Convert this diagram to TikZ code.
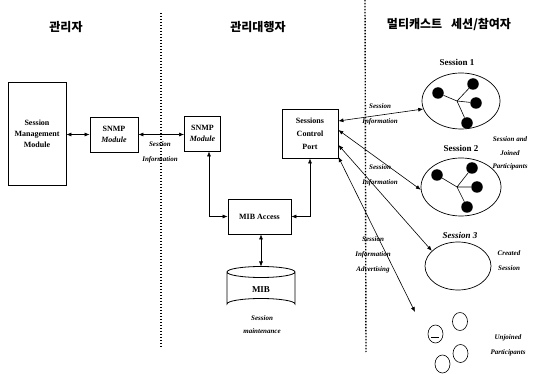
\documentclass[tikz,border=0pt]{standalone}
\usepackage{fontspec}
\setmainfont{Liberation Serif}
\newfontfamily\kr{Noto Sans CJK KR}
\usetikzlibrary{arrows.meta,shapes.geometric}
\tikzset{
  box/.style={draw, line width=0.8pt, align=center, inner sep=1pt, font=\fontsize{8}{11}\selectfont\bfseries},
  lbl/.style={align=center, inner sep=0pt, font=\fontsize{7}{15}\selectfont\itshape\bfseries},
  hdr/.style={inner sep=0pt, font=\kr\bfseries\fontsize{12}{14}\selectfont},
  sess/.style={draw, ellipse, line width=0.7pt, inner sep=0pt},
  sname/.style={inner sep=0pt, font=\fontsize{9}{11}\selectfont\bfseries},
  dot/.style={circle, fill=black, inner sep=0pt, minimum size=11.5pt},
  con/.style={line width=0.6pt, {Latex[length=5pt,width=4pt]}-{Latex[length=5pt,width=4pt]}},
  sep/.style={line width=1.4pt, dash pattern=on 1.4pt off 1.6pt},
  small/.style={draw, ellipse, line width=0.6pt, minimum width=15pt, minimum height=18pt, inner sep=0pt}
}
\begin{document}
\begin{tikzpicture}[x=1pt,y=-1pt]
\useasboundingbox (0,0) rectangle (533,374);
% headers
\node[hdr] (h1) at (66,27) {관리자};
\node[hdr] (h2) at (258,27) {관리대행자};
\node[hdr] (h3) at (449,25) {멀티캐스트\hspace{9pt}세션/참여자};
% separators
\coordinate (d1a) at (161,13); \coordinate (d1b) at (161,347);
\coordinate (d2a) at (365,0); \coordinate (d2b) at (366,352);
\draw[sep] (d1a) -- (d1b);
\draw[sep] (d2a) -- (d2b);
% boxes
\node[box, minimum width=58pt, minimum height=103pt] (smm) at (37,133.5) {Session\\Management\\Module};
\node[box, minimum width=48pt, minimum height=35pt] (snmpL) at (114,134.5) {SNMP\\{\itshape Module}};
\node[box, minimum width=36pt, minimum height=35pt] (snmpR) at (202.5,133.5) {SNMP\\{\itshape Module}};
\node[box, minimum width=56pt, minimum height=49pt, font=\fontsize{8}{13}\selectfont\bfseries] (scp) at (310,133.5) {Sessions\\Control\\Port};
\node[box, minimum width=63pt, minimum height=35pt] (mib) at (259.5,216.5) {MIB Access};
% MIB cylinder
\draw[line width=0.8pt] (227,272) arc[start angle=180, end angle=-180, x radius=34, y radius=5.5]
  (227,272) -- (227,304) arc[start angle=180, end angle=360, x radius=34, y radius=5.5] -- (295,272);
\coordinate (mibtop) at (261,266.5);
\node[inner sep=0pt, font=\fontsize{9}{11}\selectfont\bfseries] (mibt) at (261,290) {MIB};
\node[lbl, font=\fontsize{7}{13}\selectfont\itshape\bfseries] (maint) at (262,324.5) {Session\\maintenance};
% connectors left
\draw[con] (smm.east |- snmpL.west) -- (snmpL.west);
\draw[con] (snmpL.east) -- (snmpL.east -| snmpR.west);
\node[lbl] (si0) at (160,152) {Session\\Information};
\draw[con] ([xshift=6.5pt]snmpR.south) |- (mib.west);
\draw[con] (scp.south) |- (mib.east);
\draw[con] (mib.south -| mibtop) -- (mibtop);
% sessions
\node[sname] (n1) at (457,62) {Session 1};
\node[sess, minimum width=78pt, minimum height=56pt] (s1) at (461,101) {};
\node[sname] (n2) at (461,148) {Session 2};
\node[sess, minimum width=80pt, minimum height=58pt] (s2) at (461,187) {};
\node[sname, font=\fontsize{9}{11}\selectfont\itshape\bfseries] (n3) at (460,235) {Session 3};
\node[sess, minimum width=66pt, minimum height=48pt] (s3) at (458,266) {};
% session 1 members
\coordinate (j1) at (457,101);
\node[dot] (a1) at (438,93) {};
\node[dot] (b1) at (473,84) {};
\node[dot] (c1) at (476,103) {};
\node[dot] (e1) at (467,123) {};
\draw[line width=0.6pt] (a1) -- (j1) -- (b1) (j1) -- (c1) (j1) -- (e1);
% session 2 members
\coordinate (j2) at (457,187);
\node[dot] (a2) at (437,175) {};
\node[dot] (b2) at (472,168) {};
\node[dot] (c2) at (477,187) {};
\node[dot] (e2) at (467,207) {};
\draw[line width=0.6pt] (a2) -- (j2) -- (b2) (j2) -- (c2) (j2) -- (e2);
% unjoined
\node[small] (u1) at (435.5,334) {};
\node[small] (u2) at (460,321.5) {};
\node[small] (u3) at (460.5,353.5) {};
\node[small] (u4) at (442.5,364) {};
\draw[line width=0.5pt] (431,337) -- (439,337);
\coordinate (uj) at (415,312);
% labels on right
\node[lbl] (l1) at (510,153.5) {Session and\\[-1pt]Joined\\[-2pt]Participants};
\node[lbl] (l2) at (509,260.5) {Created\\Session};
\node[lbl] (l3) at (508,345) {Unjoined\\Participants};
% SCP arrows
\draw[con] ([yshift=12.5pt]scp.east) -- (s1.192);
\node[lbl] (i1) at (380,114.5) {Session\\Information};
\draw[con] ([yshift=3.5pt]scp.east) -- (s2.184);
\node[lbl] (i2) at (380,175.5) {Session\\Information};
\draw[con] ([yshift=-11.5pt]scp.east) -- (s3.150);
\draw[con] ([yshift=-23.5pt]scp.east) -- (uj);
\node[lbl] (i3) at (373,255) {Session\\Information\\Advertising};
\end{tikzpicture}
\end{document}
